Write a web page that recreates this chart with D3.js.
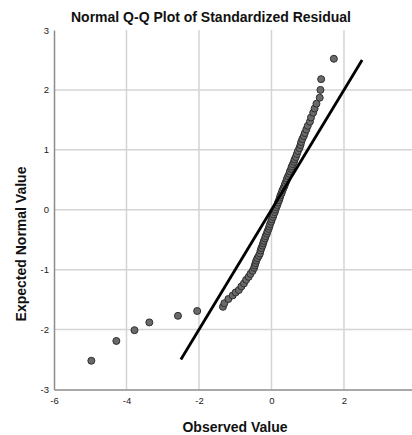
<!DOCTYPE html>
<html>
<head>
<meta charset="utf-8">
<script src="https://cdn.jsdelivr.net/npm/d3@7"></script>
<style>
  body { margin: 0; background: #fff; }
  .axis text { font-family: "Liberation Sans", Arial, sans-serif; font-size: 9.5px; fill: #222; }
  .title { font-family: "Liberation Sans", Arial, sans-serif; font-weight: bold; fill: #111; }
</style>
</head>
<body>
<div id="chart"></div>
<script>
// observed standardized residuals (x) and expected normal values (y)
var observed = [
  -4.97, -4.28, -3.78, -3.37, -2.58, -2.05, -1.34, -1.30, -1.19, -1.07,
  -0.99, -0.90, -0.83, -0.76, -0.70, -0.63, -0.58, -0.52, -0.48, -0.46,
  -0.44, -0.42, -0.39, -0.35, -0.32, -0.30, -0.28, -0.25, -0.23, -0.21,
  -0.18, -0.16, -0.13, -0.11, -0.08, -0.06, -0.04, -0.01, 0.01, 0.04,
  0.06, 0.09, 0.11, 0.13, 0.16, 0.18, 0.21, 0.23, 0.25, 0.28,
  0.30, 0.33, 0.36, 0.38, 0.41, 0.43, 0.46, 0.49, 0.51, 0.54,
  0.56, 0.59, 0.62, 0.64, 0.67, 0.70, 0.73, 0.77, 0.80, 0.82,
  0.85, 0.89, 0.92, 0.96, 1.00, 1.06, 1.09, 1.15, 1.19, 1.24,
  1.33, 1.35, 1.37, 1.72
];
var expected = [
  -2.52, -2.19, -2.01, -1.88, -1.77, -1.69, -1.62, -1.56, -1.49, -1.43,
  -1.38, -1.34, -1.28, -1.23, -1.17, -1.12, -1.07, -1.02, -0.97, -0.93,
  -0.89, -0.85, -0.81, -0.77, -0.73, -0.68, -0.64, -0.60, -0.56, -0.52,
  -0.48, -0.44, -0.40, -0.36, -0.32, -0.28, -0.24, -0.20, -0.16, -0.12,
  -0.08, -0.04, 0.00, 0.04, 0.08, 0.12, 0.16, 0.20, 0.24, 0.28,
  0.32, 0.36, 0.40, 0.44, 0.48, 0.52, 0.56, 0.60, 0.64, 0.68,
  0.72, 0.76, 0.80, 0.84, 0.88, 0.93, 0.98, 1.03, 1.08, 1.13,
  1.18, 1.23, 1.28, 1.34, 1.40, 1.47, 1.54, 1.62, 1.69, 1.77,
  1.87, 2.00, 2.18, 2.52
];
var refLine = [-2.5, 2.5];
var xTicks = [-6, -4, -2, 0, 2];
var yTicks = [-3, -2, -1, 0, 1, 2, 3];

var width = 412, height = 435;

var svg = d3
  .select('#chart')
  .append('svg')
  .attr('width', width)
  .attr('height', height);

var x = d3.scaleLinear().domain([-6, 3.876]).range([54, 412]);
var y = d3.scaleLinear().domain([-3, 3]).range([389.5, 30]);

// grid
svg
  .append('g')
  .selectAll('line')
  .data(xTicks.filter((d) => d > -6))
  .enter()
  .append('line')
  .attr('x1', (d) => x(d))
  .attr('x2', (d) => x(d))
  .attr('y1', y(3))
  .attr('y2', y(-3))
  .attr('stroke', '#d4d4d4')
  .attr('stroke-width', 1.5);

svg
  .append('g')
  .selectAll('line')
  .data(yTicks.filter((d) => d > -3 && d < 3))
  .enter()
  .append('line')
  .attr('x1', x(-6))
  .attr('x2', 412)
  .attr('y1', (d) => y(d))
  .attr('y2', (d) => y(d))
  .attr('stroke', '#d4d4d4')
  .attr('stroke-width', 1.5);

// axes
var xAxis = svg
  .append('g')
  .attr('class', 'axis')
  .attr('transform', 'translate(0,' + y(-3) + ')')
  .call(d3.axisBottom(x).tickValues(xTicks).tickSize(0).tickPadding(8).tickFormat(d3.format('d')));
xAxis.select('.domain').attr('stroke', '#8c8c8c').attr('stroke-width', 1.5);

var yAxis = svg
  .append('g')
  .attr('class', 'axis')
  .attr('transform', 'translate(' + x(-6) + ',0)')
  .call(d3.axisLeft(y).tickValues(yTicks).tickSize(0).tickPadding(5).tickFormat(d3.format('d')));
yAxis.select('.domain').attr('stroke', '#8c8c8c').attr('stroke-width', 1.5);
svg.selectAll('.axis text').text((d) => String(d).replace('\u2212', '-'));

// points
svg
  .append('g')
  .selectAll('circle')
  .data(observed.map((d, i) => [d, expected[i]]))
  .enter()
  .append('circle')
  .attr('cx', (d) => x(d[0]))
  .attr('cy', (d) => y(d[1]))
  .attr('r', 3.5)
  .attr('fill', '#6a6a6a')
  .attr('stroke', '#2e2e2e')
  .attr('stroke-width', 1);

// reference line
svg
  .append('line')
  .attr('x1', x(refLine[0]))
  .attr('y1', y(refLine[0]))
  .attr('x2', x(refLine[1]))
  .attr('y2', y(refLine[1]))
  .attr('stroke', '#000')
  .attr('stroke-width', 2.8);

// titles
svg
  .append('text')
  .attr('class', 'title')
  .attr('x', 211)
  .attr('y', 22)
  .attr('text-anchor', 'middle')
  .attr('font-size', 14)
  .text('Normal Q-Q Plot of Standardized Residual');

svg
  .append('text')
  .attr('class', 'title')
  .attr('x', 235)
  .attr('y', 432)
  .attr('text-anchor', 'middle')
  .attr('font-size', 14)
  .text('Observed Value');

svg
  .append('text')
  .attr('class', 'title')
  .attr('transform', 'translate(26,244) rotate(-90)')
  .attr('text-anchor', 'middle')
  .attr('font-size', 14)
  .text('Expected Normal Value');
</script>
</body>
</html>
